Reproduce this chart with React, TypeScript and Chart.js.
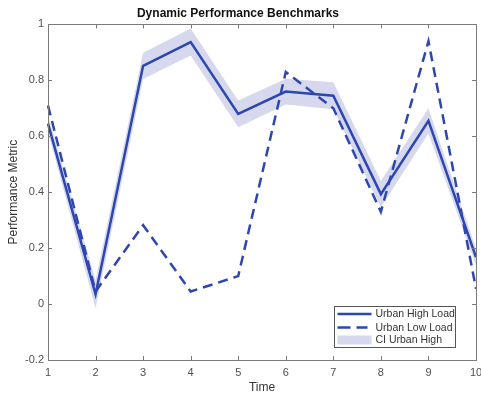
import React, { useEffect, useRef } from "react";
import { Chart, registerables } from "chart.js";

Chart.register(...registerables);

const timeLabels = ["1", "2", "3", "4", "5", "6", "7", "8", "9", "10"];
const urbanHigh = [0.645, 0.035, 0.852, 0.937, 0.68, 0.76, 0.745, 0.393, 0.655, 0.168];
const urbanLow = [0.71, 0.045, 0.282, 0.045, 0.1, 0.83, 0.7, 0.33, 0.94, 0.055];
const ciUpper = [0.675, 0.085, 0.899, 0.985, 0.728, 0.806, 0.793, 0.44, 0.7, 0.198];
const ciLower = [0.615, -0.015, 0.805, 0.889, 0.632, 0.714, 0.697, 0.346, 0.61, 0.138];

const LINE = "#2E46B0";
const BAND = "#D6D9EE";
const AXIS = "#7a7a7a";
const TICKTXT = "#505050";
const FONT = "'Liberation Sans', Arial, sans-serif";

const boxPlugin = {
  id: "matlabBox",
  afterDraw(chart: any) {
    const { ctx, chartArea: a, scales } = chart;
    ctx.save();
    ctx.strokeStyle = AXIS;
    ctx.lineWidth = 1;
    ctx.strokeRect(Math.round(a.left) + 0.5, Math.round(a.top) + 0.5, Math.round(a.right - a.left), Math.round(a.bottom - a.top));
    const tl = 4;
    ctx.beginPath();
    scales.x.ticks.forEach((_t: any, i: number) => {
      const px = Math.round(scales.x.getPixelForTick(i)) + 0.5;
      ctx.moveTo(px, a.top);
      ctx.lineTo(px, a.top + tl);
      ctx.moveTo(px, a.bottom);
      ctx.lineTo(px, a.bottom - tl);
    });
    scales.y.ticks.forEach((_t: any, i: number) => {
      const py = Math.round(scales.y.getPixelForTick(i)) + 0.5;
      ctx.moveTo(a.left, py);
      ctx.lineTo(a.left + tl, py);
      ctx.moveTo(a.right, py);
      ctx.lineTo(a.right - tl, py);
    });
    ctx.stroke();

    // legend
    const ds = chart.data.datasets;
    const items = [ds[2], ds[3], { label: "CI Urban High", band: true }];
    const w = 121, h = 41;
    const x0 = Math.round(a.right - 21 - w) + 0.5;
    const y0 = Math.round(a.bottom - 13 - h) + 0.5;
    ctx.fillStyle = "#ffffff";
    ctx.fillRect(x0, y0, w, h);
    ctx.strokeStyle = "#555";
    ctx.strokeRect(x0, y0, w, h);
    ctx.font = `10.5px ${FONT}`;
    ctx.textBaseline = "middle";
    ctx.textAlign = "left";
    const rows = [7.5, 21, 33.5];
    items.forEach((it: any, i: number) => {
      const cy = y0 + rows[i];
      if (it.band) {
        ctx.fillStyle = BAND;
        ctx.fillRect(x0 + 3, cy - 4.5, 34, 9);
      } else {
        ctx.strokeStyle = it.borderColor;
        ctx.lineWidth = 2.5;
        const dashed = !!it.borderDash;
        ctx.setLineDash(dashed ? [13, 6] : []);
        ctx.beginPath();
        ctx.moveTo(x0 + 3, cy);
        ctx.lineTo(x0 + (dashed ? 33 : 37), cy);
        ctx.stroke();
        ctx.setLineDash([]);
      }
      ctx.fillStyle = "#333";
      ctx.fillText(it.label, x0 + 41, cy + 0.5);
    });
    ctx.restore();
  },
};

export default function App() {
  const ref = useRef<HTMLCanvasElement | null>(null);
  useEffect(() => {
    document.body.style.margin = "0";
    if (!ref.current) return;
    const chart = new Chart(ref.current, {
      type: "line",
      data: {
        labels: timeLabels,
        datasets: [
          {
            label: "CI upper",
            data: ciUpper,
            borderWidth: 0,
            pointRadius: 0,
            backgroundColor: BAND,
            fill: "+1",
            order: 3,
          },
          {
            label: "CI lower",
            data: ciLower,
            borderWidth: 0,
            pointRadius: 0,
            fill: false,
            order: 3,
          },
          {
            label: "Urban High Load",
            data: urbanHigh,
            borderColor: LINE,
            borderWidth: 2.5,
            pointRadius: 0,
            fill: false,
            tension: 0,
            order: 2,
          },
          {
            label: "Urban Low Load",
            data: urbanLow,
            borderColor: LINE,
            borderWidth: 2.5,
            borderDash: [10, 6],
            pointRadius: 0,
            fill: false,
            tension: 0,
            order: 1,
          },
        ],
      },
      options: {
        responsive: false,
        animation: false,
        devicePixelRatio: 1,
        layout: { padding: { left: 0, right: 5, top: 0, bottom: 0 } },
        plugins: {
          legend: { display: false },
          tooltip: { enabled: false },
          title: {
            display: true,
            text: "Dynamic Performance Benchmarks",
            color: "#111",
            font: { family: FONT, size: 12, weight: "bold", lineHeight: 1.2 },
            padding: { top: 6, bottom: 4 },
          },
        },
        scales: {
          x: {
            type: "category",
            offset: false,
            grid: { display: false, drawTicks: false },
            border: { display: false },
            ticks: {
              color: TICKTXT,
              font: { family: FONT, size: 11 },
              padding: 6,
              maxRotation: 0,
              autoSkip: false,
            },
            title: {
              display: true,
              text: "Time",
              color: "#333",
              font: { family: FONT, size: 12, lineHeight: 1.2 },
              padding: { top: 0, bottom: 0 },
            },
            afterFit(scale: any) {
              scale.height = 35;
              scale.paddingLeft = 0;
              scale.paddingRight = 0;
            },
          },
          y: {
            min: -0.2,
            max: 1,
            grid: { display: false, drawTicks: false },
            border: { display: false },
            ticks: {
              stepSize: 0.2,
              color: TICKTXT,
              font: { family: FONT, size: 11 },
              padding: 4,
              callback: (v: any) => String(Math.round(Number(v) * 10) / 10),
            },
            title: {
              display: true,
              text: "Performance Metric",
              color: "#333",
              font: { family: FONT, size: 12, lineHeight: 1.2 },
              padding: { top: 6, bottom: 0 },
            },
            afterFit(scale: any) {
              scale.width = 48;
              scale.paddingTop = 0;
              scale.paddingBottom = 0;
            },
          },
        },
      },
      plugins: [boxPlugin],
    });
    return () => chart.destroy();
  }, []);
  return (
    <div style={{ width: 481, height: 395, background: "#fff" }}>
      <canvas ref={ref} width={481} height={395} />
    </div>
  );
}
